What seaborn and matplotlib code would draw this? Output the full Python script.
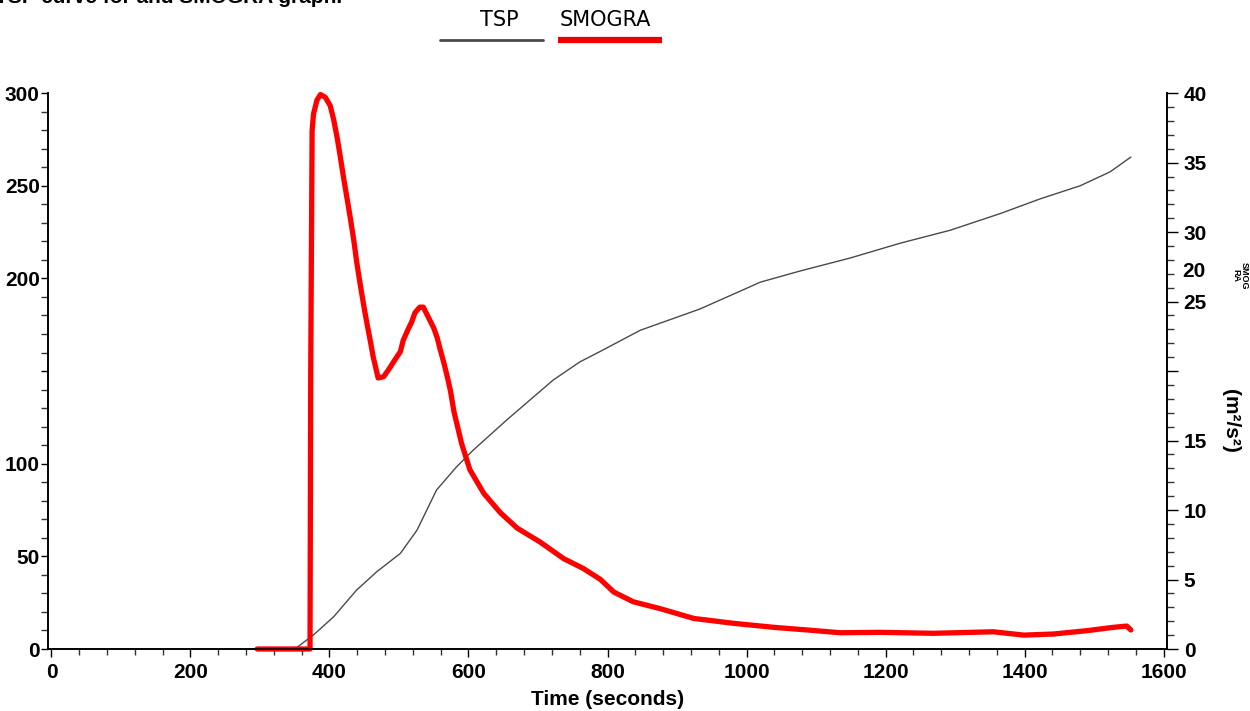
import matplotlib
matplotlib.use("Agg")
import matplotlib.pyplot as plt
import matplotlib.transforms as mtransforms
from matplotlib.lines import Line2D
from matplotlib.ticker import MultipleLocator
import numpy as np
import pandas as pd
import seaborn as sns

# ---------------- data ----------------
tsp_time = [300, 353, 377, 406, 439, 468, 502, 526, 554, 583, 607, 655, 722,
            760, 789, 847, 933, 1020, 1077, 1149, 1221, 1293, 1365, 1423,
            1480, 1523, 1553]
tsp_value = [0.3, 0.8, 7.6, 17.4, 31.8, 41.7, 51.6, 64.2, 85.8, 98.4, 107.4,
             123.6, 145.2, 154.9, 160.5, 172.0, 183.5, 198.0, 204.0, 211.0,
             219.0, 226.0, 235.0, 243.0, 250.0, 257.5, 265.5]

smogra_time = [296, 372, 373, 375, 377, 382, 387, 394, 401, 406, 411, 415, 420,
               425, 430, 435, 439, 444, 449, 454, 459, 463, 470, 478, 485, 494,
               502, 506, 514, 518, 523, 530, 535, 542, 550, 555, 559, 564, 569,
               574, 579, 590, 602, 622, 646, 670, 703, 737, 765, 790, 809, 837,
               876, 924, 981, 1039, 1087, 1135, 1192, 1269, 1355, 1399, 1442,
               1490, 1528, 1547, 1553]
smogra_value = [0.0, 0.0, 20.0, 37.3, 38.5, 39.5, 39.9, 39.7, 39.1, 38.1, 36.8,
                35.6, 34.0, 32.5, 31.0, 29.4, 27.9, 26.3, 24.8, 23.4, 22.1,
                21.0, 19.5, 19.6, 20.1, 20.8, 21.4, 22.2, 23.1, 23.5, 24.2,
                24.6, 24.6, 23.9, 23.1, 22.4, 21.6, 20.7, 19.7, 18.6, 17.1,
                14.8, 12.9, 11.2, 9.8, 8.7, 7.7, 6.5, 5.8, 5.0, 4.1, 3.4, 2.9,
                2.2, 1.85, 1.56, 1.37, 1.17, 1.2, 1.13, 1.24, 1.0, 1.08, 1.32,
                1.56, 1.65, 1.37]

x_ticks = [0, 200, 400, 600, 800, 1000, 1200, 1400, 1600]
left_ticks = [0, 50, 100, 150, 200, 250, 300]
left_labels = ["0", "50", "100", "", "200", "250", "300"]
right_ticks = [0, 5, 10, 15, 20, 25, 30, 35, 40]
right_labels = ["0", "5", "10", "15", "", "25", "30", "35", "40"]
right_extra_label = ("20", 27.2)

series_names = ["TSP", "SMOGRA"]
title_text = "Figure 5: TSP curve for and SMOGRA graph."
x_label = "Time (seconds)"
right_label = "(m²/s²)"
right_small_label = "SMOG\nRA"

# ---------------- style ----------------
sns.set_style("white")
plt.rcParams["font.family"] = ["Liberation Sans", "DejaVu Sans"]
plt.rcParams["text.color"] = "black"
plt.rcParams["axes.labelcolor"] = "black"
plt.rcParams["xtick.color"] = "black"
plt.rcParams["ytick.color"] = "black"

fig = plt.figure(figsize=(12.5, 7.11), dpi=100)
ax = fig.add_axes([0.0384, 0.0872, 0.8952, 0.7818])
ax2 = ax.twinx()

tsp_df = pd.DataFrame({"time": tsp_time, "value": tsp_value})
sm_df = pd.DataFrame({"time": smogra_time, "value": smogra_value})

sns.lineplot(data=tsp_df, x="time", y="value", ax=ax, color="#4a4a4a",
             linewidth=1.0, estimator=None, sort=False)
sns.lineplot(data=sm_df, x="time", y="value", ax=ax2, color="#ff0000",
             linewidth=3.8, estimator=None, sort=False)
for ln in ax2.lines:
    ln.set_clip_on(False)
    ln.set_solid_joinstyle("round")
    ln.set_solid_capstyle("round")

ax.set_xlim(-5, 1605)
ax.set_ylim(0, 300)
ax2.set_ylim(0, 40)

tick_font = dict(fontsize=15, fontweight="bold", color="black")

ax.set_xticks(x_ticks)
ax.set_xticklabels([str(v) for v in x_ticks], **tick_font)
ax.xaxis.set_minor_locator(MultipleLocator(40))
ax.set_yticks(left_ticks)
ax.set_yticklabels(left_labels, **tick_font)
ax.yaxis.set_minor_locator(MultipleLocator(10))
ax2.set_yticks(right_ticks)
ax2.set_yticklabels(right_labels, **tick_font)
ax2.yaxis.set_minor_locator(MultipleLocator(1))

ax.tick_params(axis="x", which="major", direction="out", length=6, width=1,
               color="black", pad=4, bottom=True)
ax.tick_params(axis="x", which="minor", direction="out", length=4, width=1,
               color="#333333", bottom=True)
ax.tick_params(axis="y", which="major", direction="out", length=5, width=1,
               color="black", pad=1, left=True)
ax.tick_params(axis="y", which="minor", direction="out", length=5, width=1,
               color="#333333", left=True)
ax2.tick_params(axis="y", which="major", direction="out", length=8, width=1,
                color="black", pad=4, right=True)
ax2.tick_params(axis="y", which="minor", direction="out", length=5, width=1,
                color="#333333", right=True)

for a in (ax, ax2):
    a.spines["top"].set_visible(False)
    for s in ("left", "right", "bottom"):
        a.spines[s].set_color("black")
        a.spines[s].set_linewidth(1.2)
    a.set_ylabel("")
    a.grid(False)

ax.set_xlabel(x_label, fontsize=15, fontweight="bold", labelpad=6,
              color="black")

# extra misplaced right-axis label
trans = mtransforms.blended_transform_factory(ax2.transAxes, ax2.transData)
ax2.text(1.0 + 15 / (0.8952 * 1250), right_extra_label[1], right_extra_label[0],
         transform=trans, fontsize=15, fontweight="bold", va="center",
         ha="left", color="black")

# right-side rotated labels
fig.text(1230 / 1250, 1 - 421 / 711, right_label, rotation=-90, fontsize=15,
         fontweight="bold", ha="center", va="center")
fig.text(1240 / 1250, 1 - 276 / 711, right_small_label, rotation=-90,
         fontsize=6.5, fontweight="bold", ha="center", va="center",
         multialignment="center", linespacing=1.0)

# cut-off title at the very top
fig.text(342 / 1250, 1 - 3 / 711, title_text, fontsize=15, fontweight="bold",
         ha="right", va="baseline")

# legend: text above line
legend_y_text = 1 - 20 / 711
legend_y_line = 1 - 40 / 711
fig.text(499 / 1250, legend_y_text, series_names[0], fontsize=15,
         family=["DejaVu Sans"], ha="center", va="center")
fig.text(605 / 1250, legend_y_text, series_names[1], fontsize=15,
         family=["DejaVu Sans"], ha="center", va="center")
fig.add_artist(Line2D([440 / 1250, 543 / 1250], [legend_y_line, legend_y_line],
                      transform=fig.transFigure, color="#4a4a4a", linewidth=2))
fig.add_artist(Line2D([558 / 1250, 662 / 1250], [legend_y_line, legend_y_line],
                      transform=fig.transFigure, color="#ee0000", linewidth=4.5,
                      solid_capstyle="butt"))

fig.savefig("out.png", dpi=100)
